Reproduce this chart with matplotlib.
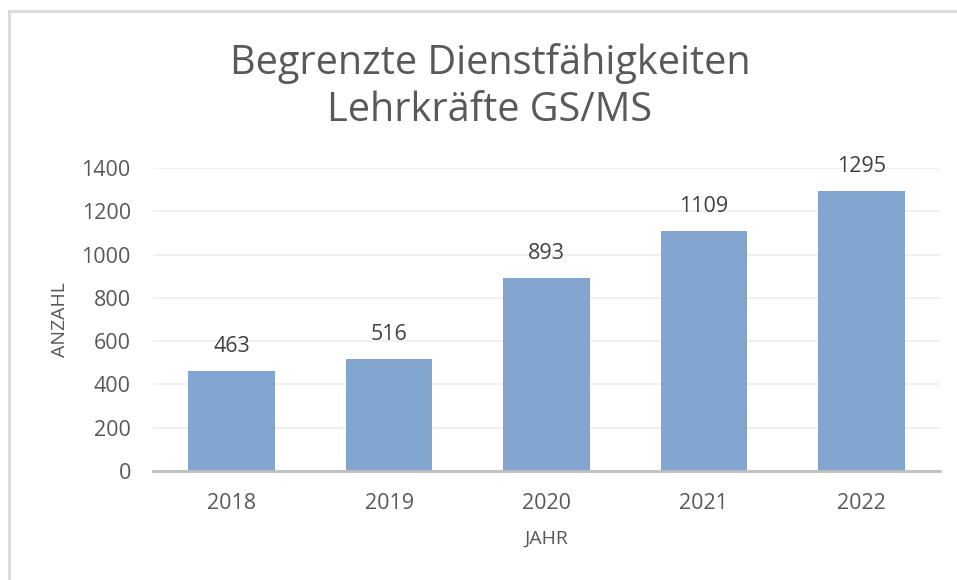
import matplotlib.pyplot as plt
from matplotlib.lines import Line2D

years = ["2018", "2019", "2020", "2021", "2022"]
counts = [463, 516, 893, 1109, 1295]

plt.rcParams['font.family'] = ['Open Sans', 'DejaVu Sans']
GREY = "#595959"

fig = plt.figure(figsize=(9.57, 5.8), dpi=100)
ax = fig.add_axes([153 / 957, 1 - 471 / 580, (940 - 153) / 957, (471 - 168) / 580])

x = range(len(years))
bars = ax.bar(x, counts, width=0.55, color="#82A6CF", zorder=3)
for b, v in zip(bars, counts):
    ax.annotate(str(v), (b.get_x() + b.get_width() / 2, v), xytext=(0, 10),
                textcoords="offset points", ha="center", va="bottom",
                fontsize=15.5, color="#404040")

ax.set_xlim(-0.5, len(years) - 0.5)
ax.set_ylim(0, 1400)
ax.set_yticks(range(0, 1401, 200))
ax.set_xticks(list(x))
ax.set_xticklabels(years)
ax.tick_params(axis="both", length=0, labelsize=15.5, labelcolor=GREY)
ax.tick_params(axis="x", pad=16)
ax.tick_params(axis="y", pad=16)
ax.grid(axis="y", color="#EDEDED", linewidth=1.2, zorder=0)
for s in ["top", "right", "left"]:
    ax.spines[s].set_visible(False)
ax.spines["bottom"].set_color("#BFBFBF")
ax.spines["bottom"].set_linewidth(2)
ax.spines["bottom"].set_zorder(4)

ax.set_ylabel("ANZAHL", fontsize=14, color=GREY, labelpad=9)
ax.set_xlabel("JAHR", fontsize=14, color=GREY, labelpad=11)

fig.text(0.512, 1 - 87 / 580, "Begrenzte Dienstfähigkeiten\nLehrkräfte GS/MS",
         ha="center", va="center", fontsize=28.5, color=GREY, linespacing=1.22)

# chart frame (only top and left edges visible in the crop)
fig.add_artist(Line2D([9 / 957, 9 / 957], [0, 1 - 11 / 580], color="#D9D9D9", lw=2))
fig.add_artist(Line2D([9 / 957, 1], [1 - 11 / 580, 1 - 11 / 580], color="#D9D9D9", lw=2))

fig.savefig("out.png", dpi=100)
